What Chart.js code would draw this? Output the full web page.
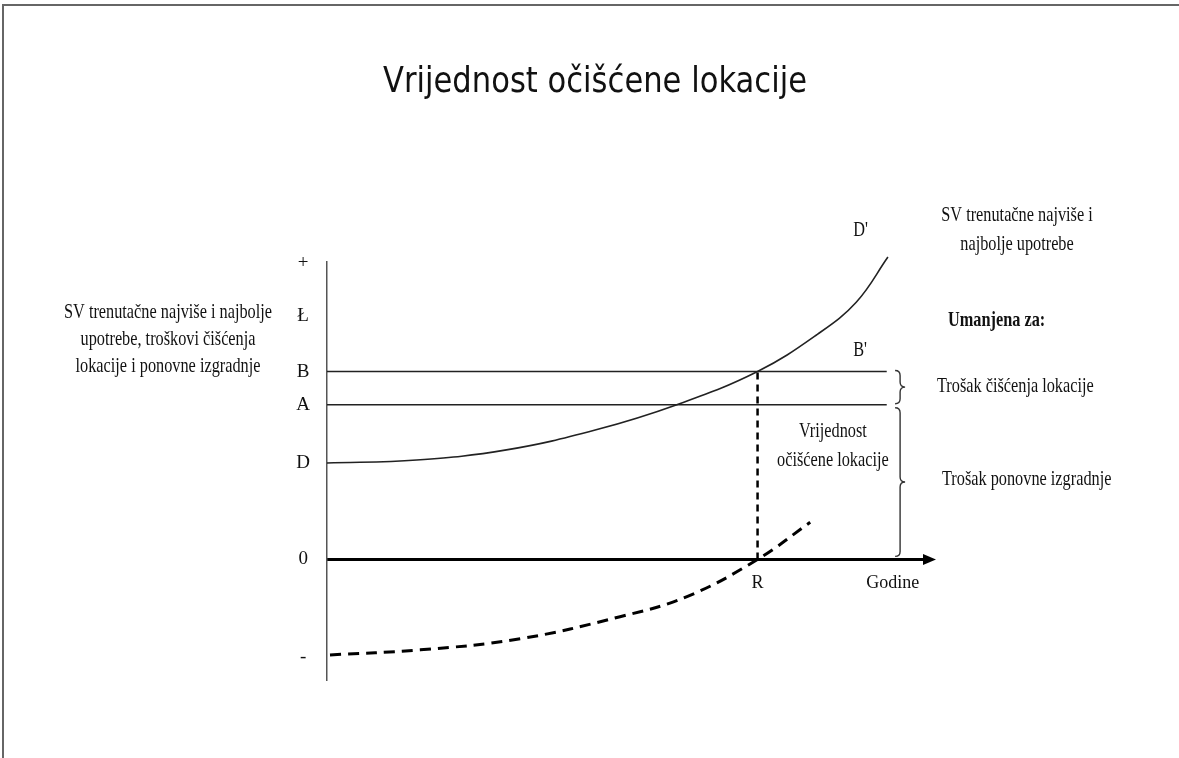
<!DOCTYPE html>
<html>
<head>
<meta charset="utf-8">
<title>Vrijednost očišćene lokacije</title>
<script src="https://cdn.jsdelivr.net/npm/chart.js@4.4.1/dist/chart.umd.min.js"></script>
<style>
	html, body { margin: 0; padding: 0; background: #fff; }
	#wrap { position: relative; width: 1179px; height: 758px; overflow: hidden; }
	#frame { position: absolute; left: 2px; top: 4px; width: 1300px; height: 900px; border-top: 2px solid #666; border-left: 2px solid #666; }
	#box { position: absolute; left: 0; top: 0; width: 1179px; height: 758px; }
</style>
</head>
<body>
<div id="wrap">
	<div id="frame"></div>
	<div id="box"><canvas id="myChart"></canvas></div>
</div>
<script>
const TITLE = "Vrijednost očišćene lokacije";

// oznake na osima
const yTickValues = [29.5, 24.2, 18.7, 15.4, 9.6, 0, -9.7];
const yTickLabels = ["+", "Ł", "B", "A", "D", "0", "-"];
const xTickValues = [72, 94.6];
const xTickLabels = ["R", "Godine"];

// razine B i A (vodoravne linije)
const levelB = 18.7;
const levelA = 15.4;
const levelEnd = 93.6;

// SV trenutačne najviše i najbolje upotrebe, D -> D'
const svX = [0, 15, 30, 45, 58.5, 72, 82, 88.5, 93.8];
const svY = [9.6, 9.9, 10.9, 12.9, 15.4, 18.7, 22.4, 25.6, 30.1];

// vrijednost očišćene lokacije (isprekidana krivulja)
const clearX = [0.5, 15.6, 32.3, 49.0, 60.2, 72, 80.8];
const clearY = [-9.5, -9.0, -7.9, -5.7, -3.7, 0, 3.7];

// godina R
const rYear = 72;

const INK = "#111";
const SERIF = "'Liberation Serif', 'Times New Roman', serif";

function pts(xs, ys) {
	return xs.map((x, i) => ({ x: x, y: ys[i] }));
}

function txt(ctx, s, x, y, size, align, bold, family, sx) {
	ctx.save();
	ctx.translate(x, y);
	ctx.scale(sx || 0.74, 1);
	ctx.font = (bold ? "bold " : "") + size + "px " + (family || SERIF);
	ctx.fillStyle = INK;
	ctx.textAlign = align || "left";
	ctx.textBaseline = "alphabetic";
	ctx.fillText(s, 0, 0);
	ctx.restore();
}

function brace(ctx, x, y1, y2, w) {
	let m = (y1 + y2) / 2;
	let h = w / 2;
	ctx.beginPath();
	ctx.moveTo(x, y1);
	ctx.quadraticCurveTo(x + h, y1, x + h, y1 + h);
	ctx.lineTo(x + h, m - h);
	ctx.quadraticCurveTo(x + h, m, x + w, m);
	ctx.quadraticCurveTo(x + h, m, x + h, m + h);
	ctx.lineTo(x + h, y2 - h);
	ctx.quadraticCurveTo(x + h, y2, x, y2);
	ctx.stroke();
}

const annotations = {
	id: "annotations",
	afterDraw(chart) {
		let ctx = chart.ctx;
		let sx = chart.scales.x;
		let sy = chart.scales.y;
		let area = chart.chartArea;
		let y0 = sy.getPixelForValue(0);

		// strelica na kraju osi
		ctx.save();
		ctx.fillStyle = "#000";
		ctx.beginPath();
		ctx.moveTo(area.right - 2, y0 - 5.5);
		ctx.lineTo(area.right + 11, y0);
		ctx.lineTo(area.right - 2, y0 + 5.5);
		ctx.closePath();
		ctx.fill();

		// vitičaste zagrade
		ctx.strokeStyle = "#333";
		ctx.lineWidth = 1.4;
		let bx = sx.getPixelForValue(95);
		brace(ctx, bx, sy.getPixelForValue(levelB) - 1, sy.getPixelForValue(levelA) - 1, 10);
		brace(ctx, bx, sy.getPixelForValue(levelA) + 3, y0 - 3, 10);
		ctx.restore();

		// naslov
		txt(ctx, TITLE, 595, 92, 36, "center", false, "'DejaVu Sans', Verdana, sans-serif", 0.85);

		// oznake u grafu
		txt(ctx, "D'", sx.getPixelForValue(88), sy.getPixelForValue(32.2), 22, "left");
		txt(ctx, "B'", sx.getPixelForValue(88), sy.getPixelForValue(20.2), 22, "left");
		txt(ctx, "Vrijednost", sx.getPixelForValue(84.6), sy.getPixelForValue(12.2), 22, "center");
		txt(ctx, "očišćene lokacije", sx.getPixelForValue(84.6), sy.getPixelForValue(9.3), 22, "center");

		// lijevi opis osi
		txt(ctx, "SV trenutačne najviše i najbolje", 168, 318, 22, "center");
		txt(ctx, "upotrebe, troškovi čišćenja", 168, 345, 22, "center");
		txt(ctx, "lokacije i ponovne izgradnje", 168, 372, 22, "center");

		// desni opisi
		txt(ctx, "SV trenutačne najviše i", 1017, 221, 22, "center");
		txt(ctx, "najbolje upotrebe", 1017, 250, 22, "center");
		txt(ctx, "Umanjena za:", 948, 326, 22, "left", true);
		txt(ctx, "Trošak čišćenja lokacije", 937, 392, 22, "left");
		txt(ctx, "Trošak ponovne izgradnje", 942, 485, 22, "left");
	}
};

function createChart() {
	let ctx = document.getElementById("myChart");

	let data = {
		datasets: [{
			label: "SV trenutačne najviše i najbolje upotrebe",
			data: pts(svX, svY),
			borderColor: "#222",
			borderWidth: 1.6,
			tension: 0.4,
			clip: false
		}, {
			label: "B",
			data: pts([0, levelEnd], [levelB, levelB]),
			borderColor: "#222",
			borderWidth: 1.4
		}, {
			label: "A",
			data: pts([0, levelEnd], [levelA, levelA]),
			borderColor: "#222",
			borderWidth: 1.4
		}, {
			label: "R",
			data: pts([rYear, rYear], [0, levelB]),
			borderColor: "#000",
			borderWidth: 2.5,
			borderDash: [7, 5]
		}, {
			label: "Vrijednost očišćene lokacije",
			data: pts(clearX, clearY),
			borderColor: "#000",
			borderWidth: 3,
			borderDash: [11, 7],
			tension: 0.4
		}]
	};

	let options = {
		responsive: true,
		maintainAspectRatio: false,
		animation: false,
		showLine: true,
		elements: { point: { radius: 0 } },
		layout: { padding: { top: 262, bottom: 78, left: 0, right: 254 } },
		plugins: {
			legend: { display: false },
			tooltip: { enabled: false }
		},
		scales: {
			x: {
				type: "linear",
				min: 0,
				max: 100,
				position: { y: 0 },
				grid: { display: false, drawTicks: false },
				border: { display: true, width: 3, color: "#000" },
				afterBuildTicks: s => { s.ticks = xTickValues.map(v => ({ value: v })); },
				ticks: {
					autoSkip: false,
					maxRotation: 0,
					padding: 13,
					color: INK,
					font: { family: SERIF, size: 18 },
					callback: (v, i) => xTickLabels[i]
				}
			},
			y: {
				type: "linear",
				min: -12,
				max: 29.6,
				grid: { display: false, drawTicks: false },
				border: { display: true, width: 1.5, color: "#555" },
				afterBuildTicks: s => { s.ticks = yTickValues.map(v => ({ value: v })); },
				afterFit: s => { s.width = 327; },
				ticks: {
					autoSkip: false,
					padding: 17,
					crossAlign: "center",
					color: INK,
					font: { family: SERIF, size: 19 },
					callback: (v, i) => yTickLabels[i]
				}
			}
		}
	};

	window.chart = new Chart(ctx, {
		type: "scatter",
		data: data,
		options: options,
		plugins: [annotations]
	});
}

createChart();
</script>
</body>
</html>
